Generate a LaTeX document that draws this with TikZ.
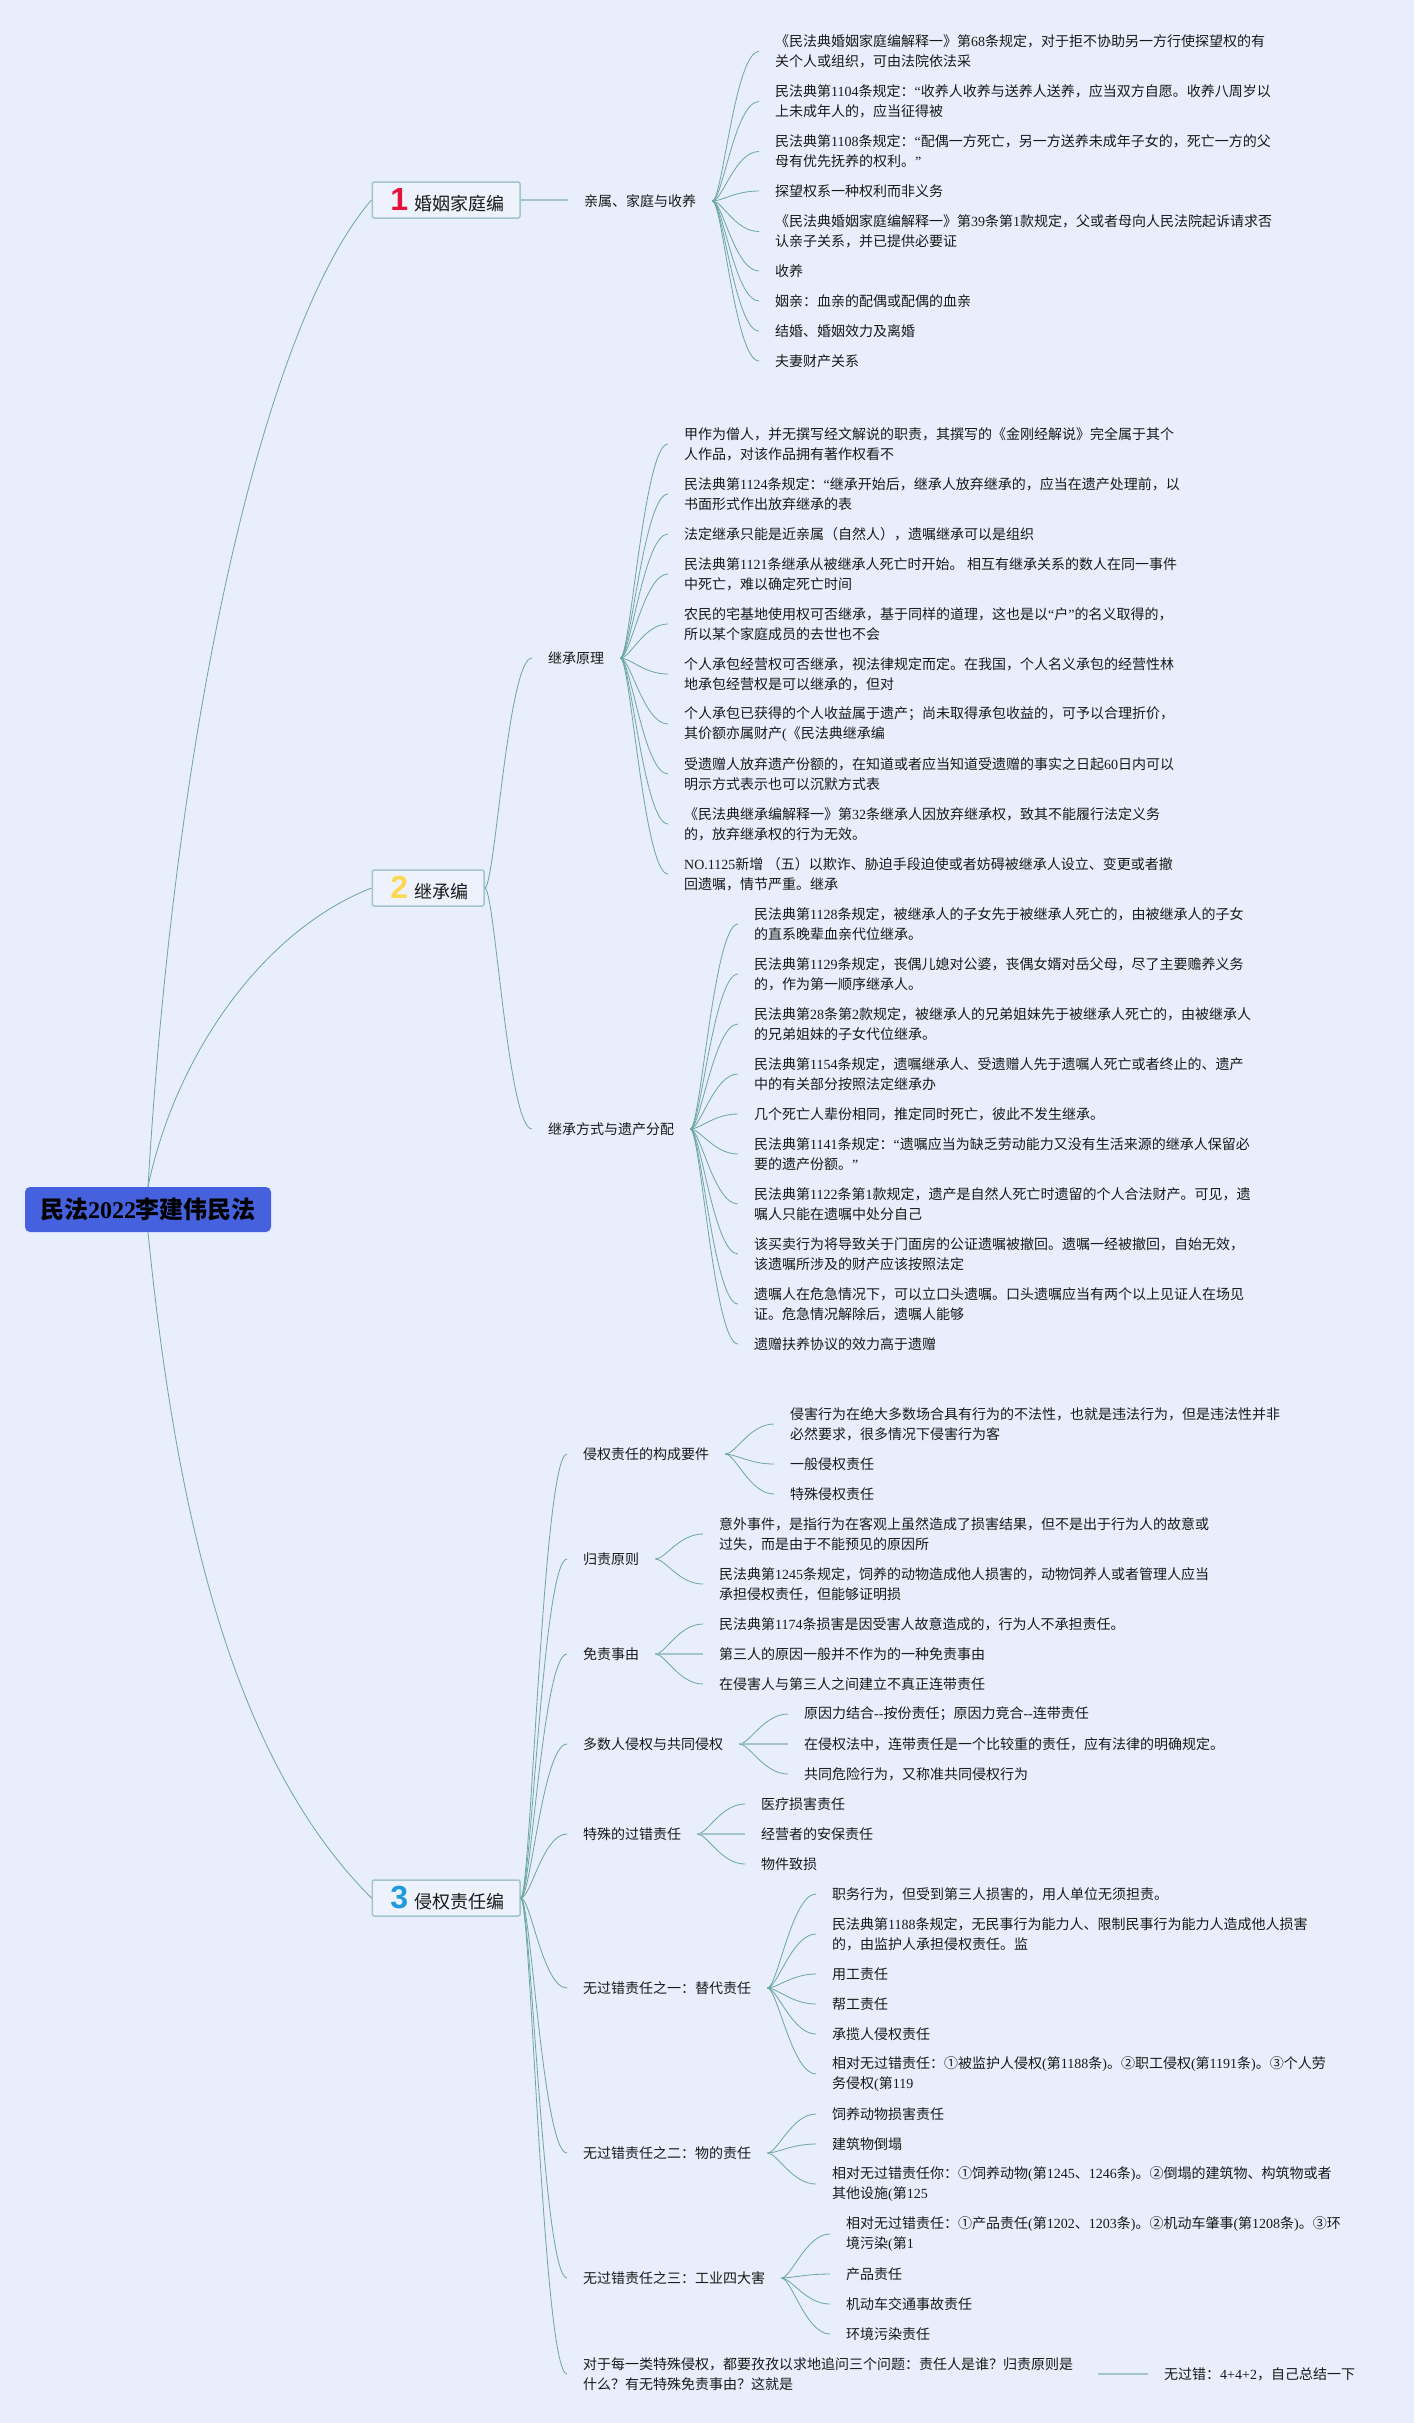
\documentclass[tikz,border=0pt]{standalone}
\usepackage{fontspec}
\setmainfont{Noto Sans CJK SC}
\newfontfamily\latinface{Liberation Serif}
\newfontfamily\iconface{Liberation Sans}
\newcommand{\nm}[1]{{\latinface #1}}
\newcommand{\icon}[2]{{\iconface\bfseries\fontsize{32}{32}\selectfont\textcolor{#1}{#2}}\hspace{6pt}}
\definecolor{pagecol}{HTML}{E8EEFC}
\definecolor{linecol}{HTML}{6BA6A0}
\definecolor{stubcol}{HTML}{A3C4CA}
\definecolor{boxfill}{HTML}{EDF2FC}
\definecolor{rootcol}{HTML}{4661DE}
\definecolor{redicon}{HTML}{E5133C}
\definecolor{yellowicon}{HTML}{FBD84F}
\definecolor{blueicon}{HTML}{1F9ADB}
\tikzset{
  leaf/.style={anchor=west,align=left,inner xsep=16pt,inner ysep=0pt,text=black!90,
    font=\fontsize{14}{20}\selectfont},
  part/.style={anchor=west,draw=stubcol,line width=1.5pt,fill=boxfill,rounded corners=2pt,
    inner xsep=16pt,inner ysep=0pt,minimum height=36pt,text=black!90,font=\fontsize{18}{20}\selectfont},
  rootbox/.style={fill=rootcol,rounded corners=5pt,inner sep=0pt,minimum width=246pt,minimum height=45pt,
    font=\fontsize{24}{26}\selectfont\bfseries},
  trunk/.style={draw=linecol,line width=0.8pt},
  branch/.style={draw=linecol,line width=0.8pt,to path={.. controls +(10,0) and +(-24,0) .. (\tikztotarget) \tikztonodes}},
  stub/.style={draw=stubcol,line width=1.5pt}
}
\begin{document}
\begin{tikzpicture}[x=1pt,y=-1pt]
\fill[pagecol] (0,0) rectangle (1414,2423);
\useasboundingbox (0,0) rectangle (1414,2423);

\node[rootbox] (root) at (148,1209.5) {民法\nm{2022}李建伟民法};

\node[part] (marriage) at (371.5,200) {\hspace{2pt}\icon{redicon}{1}婚姻家庭编};
\node[part] (succession) at (371.5,888) {\hspace{2pt}\icon{yellowicon}{2}继承编};
\node[part] (tort) at (371.5,1898) {\hspace{2pt}\icon{blueicon}{3}侵权责任编};

\draw[trunk] (root.north) .. controls +(30,-500) and +(-100,115) .. (marriage.west);
\draw[trunk] (root.north) .. controls +(27,-130) and +(-110,43) .. (succession.west);
\draw[trunk] (root.south) .. controls +(28,280) and +(-140,-140) .. (tort.west);

\node[leaf] (kin) at (568,201) {亲属、家庭与收养};
\draw[stub] (marriage.east) -- (kin.west |- marriage.east);

\node[leaf] (kin1) at (759,51.5) {《民法典婚姻家庭编解释一》第\nm{68}条规定，对于拒不协助另一方行使探望权的有\\关个人或组织，可由法院依法采};
\node[leaf] (kin2) at (759,101.5) {民法典第\nm{1104}条规定：\nm{“}收养人收养与送养人送养，应当双方自愿。收养八周岁以\\上未成年人的，应当征得被};
\node[leaf] (kin3) at (759,151.5) {民法典第\nm{1108}条规定：\nm{“}配偶一方死亡，另一方送养未成年子女的，死亡一方的父\\母有优先抚养的权利。\nm{”}};
\node[leaf] (kin4) at (759,191) {探望权系一种权利而非义务};
\node[leaf] (kin5) at (759,231.5) {《民法典婚姻家庭编解释一》第\nm{39}条第\nm{1}款规定，父或者母向人民法院起诉请求否\\认亲子关系，并已提供必要证};
\node[leaf] (kin6) at (759,271) {收养};
\node[leaf] (kin7) at (759,301) {姻亲：血亲的配偶或配偶的血亲};
\node[leaf] (kin8) at (759,331) {结婚、婚姻效力及离婚};
\node[leaf] (kin9) at (759,361) {夫妻财产关系};

\draw[branch] (kin.east) to (kin1.west);
\draw[branch] (kin.east) to (kin2.west);
\draw[branch] (kin.east) to (kin3.west);
\draw[branch] (kin.east) to (kin4.west);
\draw[branch] (kin.east) to (kin5.west);
\draw[branch] (kin.east) to (kin6.west);
\draw[branch] (kin.east) to (kin7.west);
\draw[branch] (kin.east) to (kin8.west);
\draw[branch] (kin.east) to (kin9.west);

\node[leaf] (basis) at (532,658) {继承原理};
\draw[branch] (succession.east) to (basis.west);

\node[leaf] (basis1) at (668,444) {甲作为僧人，并无撰写经文解说的职责，其撰写的《金刚经解说》完全属于其个\\人作品，对该作品拥有著作权看不};
\node[leaf] (basis2) at (668,494) {民法典第\nm{1124}条规定：\nm{“}继承开始后，继承人放弃继承的，应当在遗产处理前，以\\书面形式作出放弃继承的表};
\node[leaf] (basis3) at (668,534) {法定继承只能是近亲属（自然人），遗嘱继承可以是组织};
\node[leaf] (basis4) at (668,574) {民法典第\nm{1121}条继承从被继承人死亡时开始。\nm{ }相互有继承关系的数人在同一事件\\中死亡，难以确定死亡时间};
\node[leaf] (basis5) at (668,624) {农民的宅基地使用权可否继承，基于同样的道理，这也是以\nm{“}户\nm{”}的名义取得的，\\所以某个家庭成员的去世也不会};
\node[leaf] (basis6) at (668,674) {个人承包经营权可否继承，视法律规定而定。在我国，个人名义承包的经营性林\\地承包经营权是可以继承的，但对};
\node[leaf] (basis7) at (668,724) {个人承包已获得的个人收益属于遗产；尚未取得承包收益的，可予以合理折价，\\其价额亦属财产\nm{(}《民法典继承编};
\node[leaf] (basis8) at (668,774) {受遗赠人放弃遗产份额的，在知道或者应当知道受遗赠的事实之日起\nm{60}日内可以\\明示方式表示也可以沉默方式表};
\node[leaf] (basis9) at (668,824) {《民法典继承编解释一》第\nm{32}条继承人因放弃继承权，致其不能履行法定义务\\的，放弃继承权的行为无效。};
\node[leaf] (basis10) at (668,874) {\nm{NO.1125}新增\nm{ }（五）以欺诈、胁迫手段迫使或者妨碍被继承人设立、变更或者撤\\回遗嘱，情节严重。继承};

\draw[branch] (basis.east) to (basis1.west);
\draw[branch] (basis.east) to (basis2.west);
\draw[branch] (basis.east) to (basis3.west);
\draw[branch] (basis.east) to (basis4.west);
\draw[branch] (basis.east) to (basis5.west);
\draw[branch] (basis.east) to (basis6.west);
\draw[branch] (basis.east) to (basis7.west);
\draw[branch] (basis.east) to (basis8.west);
\draw[branch] (basis.east) to (basis9.west);
\draw[branch] (basis.east) to (basis10.west);

\node[leaf] (estate) at (532,1129) {继承方式与遗产分配};
\draw[branch] (succession.east) to (estate.west);

\node[leaf] (estate1) at (738,924) {民法典第\nm{1128}条规定，被继承人的子女先于被继承人死亡的，由被继承人的子女\\的直系晚辈血亲代位继承。};
\node[leaf] (estate2) at (738,974) {民法典第\nm{1129}条规定，丧偶儿媳对公婆，丧偶女婿对岳父母，尽了主要赡养义务\\的，作为第一顺序继承人。};
\node[leaf] (estate3) at (738,1024) {民法典第\nm{28}条第\nm{2}款规定，被继承人的兄弟姐妹先于被继承人死亡的，由被继承人\\的兄弟姐妹的子女代位继承。};
\node[leaf] (estate4) at (738,1074) {民法典第\nm{1154}条规定，遗嘱继承人、受遗赠人先于遗嘱人死亡或者终止的、遗产\\中的有关部分按照法定继承办};
\node[leaf] (estate5) at (738,1114) {几个死亡人辈份相同，推定同时死亡，彼此不发生继承。};
\node[leaf] (estate6) at (738,1154) {民法典第\nm{1141}条规定：\nm{“}遗嘱应当为缺乏劳动能力又没有生活来源的继承人保留必\\要的遗产份额。\nm{”}};
\node[leaf] (estate7) at (738,1204) {民法典第\nm{1122}条第\nm{1}款规定，遗产是自然人死亡时遗留的个人合法财产。可见，遗\\嘱人只能在遗嘱中处分自己};
\node[leaf] (estate8) at (738,1254) {该买卖行为将导致关于门面房的公证遗嘱被撤回。遗嘱一经被撤回，自始无效，\\该遗嘱所涉及的财产应该按照法定};
\node[leaf] (estate9) at (738,1304) {遗嘱人在危急情况下，可以立口头遗嘱。口头遗嘱应当有两个以上见证人在场见\\证。危急情况解除后，遗嘱人能够};
\node[leaf] (estate10) at (738,1344) {遗赠扶养协议的效力高于遗赠};

\draw[branch] (estate.east) to (estate1.west);
\draw[branch] (estate.east) to (estate2.west);
\draw[branch] (estate.east) to (estate3.west);
\draw[branch] (estate.east) to (estate4.west);
\draw[branch] (estate.east) to (estate5.west);
\draw[branch] (estate.east) to (estate6.west);
\draw[branch] (estate.east) to (estate7.west);
\draw[branch] (estate.east) to (estate8.west);
\draw[branch] (estate.east) to (estate9.west);
\draw[branch] (estate.east) to (estate10.west);

\node[leaf] (elements) at (567,1454) {侵权责任的构成要件};
\node[leaf] (elements1) at (774,1424) {侵害行为在绝大多数场合具有行为的不法性，也就是违法行为，但是违法性并非\\必然要求，很多情况下侵害行为客};
\node[leaf] (elements2) at (774,1464) {一般侵权责任};
\node[leaf] (elements3) at (774,1494) {特殊侵权责任};
\draw[branch] (tort.east) to (elements.west);
\draw[branch] (elements.east) to (elements1.west);
\draw[branch] (elements.east) to (elements2.west);
\draw[branch] (elements.east) to (elements3.west);

\node[leaf] (liability) at (567,1559) {归责原则};
\node[leaf] (liability1) at (703,1534) {意外事件，是指行为在客观上虽然造成了损害结果，但不是出于行为人的故意或\\过失，而是由于不能预见的原因所};
\node[leaf] (liability2) at (703,1584) {民法典第\nm{1245}条规定，饲养的动物造成他人损害的，动物饲养人或者管理人应当\\承担侵权责任，但能够证明损};
\draw[branch] (tort.east) to (liability.west);
\draw[branch] (liability.east) to (liability1.west);
\draw[branch] (liability.east) to (liability2.west);

\node[leaf] (defence) at (567,1654) {免责事由};
\node[leaf] (defence1) at (703,1624) {民法典第\nm{1174}条损害是因受害人故意造成的，行为人不承担责任。};
\node[leaf] (defence2) at (703,1654) {第三人的原因一般并不作为的一种免责事由};
\node[leaf] (defence3) at (703,1684) {在侵害人与第三人之间建立不真正连带责任};
\draw[branch] (tort.east) to (defence.west);
\draw[branch] (defence.east) to (defence1.west);
\draw[stub] (defence.east) -- (defence2.west);
\draw[branch] (defence.east) to (defence3.west);

\node[leaf] (joint) at (567,1744) {多数人侵权与共同侵权};
\node[leaf] (joint1) at (788,1714) {原因力结合\nm{-{}-}按份责任；原因力竞合\nm{-{}-}连带责任};
\node[leaf] (joint2) at (788,1744) {在侵权法中，连带责任是一个比较重的责任，应有法律的明确规定。};
\node[leaf] (joint3) at (788,1774) {共同危险行为，又称准共同侵权行为};
\draw[branch] (tort.east) to (joint.west);
\draw[branch] (joint.east) to (joint1.west);
\draw[stub] (joint.east) -- (joint2.west);
\draw[branch] (joint.east) to (joint3.west);

\node[leaf] (fault) at (567,1834) {特殊的过错责任};
\node[leaf] (fault1) at (745,1804) {医疗损害责任};
\node[leaf] (fault2) at (745,1834) {经营者的安保责任};
\node[leaf] (fault3) at (745,1864) {物件致损};
\draw[branch] (tort.east) to (fault.west);
\draw[branch] (fault.east) to (fault1.west);
\draw[stub] (fault.east) -- (fault2.west);
\draw[branch] (fault.east) to (fault3.west);

\node[leaf] (vicar) at (567,1988) {无过错责任之一：替代责任};
\node[leaf] (vicar1) at (816,1894) {职务行为，但受到第三人损害的，用人单位无须担责。};
\node[leaf] (vicar2) at (816,1934) {民法典第\nm{1188}条规定，无民事行为能力人、限制民事行为能力人造成他人损害\\的，由监护人承担侵权责任。监};
\node[leaf] (vicar3) at (816,1974) {用工责任};
\node[leaf] (vicar4) at (816,2004) {帮工责任};
\node[leaf] (vicar5) at (816,2034) {承揽人侵权责任};
\node[leaf] (vicar6) at (816,2074) {相对无过错责任：①被监护人侵权\nm{(}第\nm{1188}条\nm{)}。②职工侵权\nm{(}第\nm{1191}条\nm{)}。③个人劳\\务侵权\nm{(}第\nm{119}};
\draw[branch] (tort.east) to (vicar.west);
\draw[branch] (vicar.east) to (vicar1.west);
\draw[branch] (vicar.east) to (vicar2.west);
\draw[branch] (vicar.east) to (vicar3.west);
\draw[branch] (vicar.east) to (vicar4.west);
\draw[branch] (vicar.east) to (vicar5.west);
\draw[branch] (vicar.east) to (vicar6.west);

\node[leaf] (object) at (567,2153) {无过错责任之二：物的责任};
\node[leaf] (object1) at (816,2114) {饲养动物损害责任};
\node[leaf] (object2) at (816,2144) {建筑物倒塌};
\node[leaf] (object3) at (816,2184) {相对无过错责任你：①饲养动物\nm{(}第\nm{1245}、\nm{1246}条\nm{)}。②倒塌的建筑物、构筑物或者\\其他设施\nm{(}第\nm{125}};
\draw[branch] (tort.east) to (object.west);
\draw[branch] (object.east) to (object1.west);
\draw[branch] (object.east) to (object2.west);
\draw[branch] (object.east) to (object3.west);

\node[leaf] (hazard) at (567,2278) {无过错责任之三：工业四大害};
\node[leaf] (hazard1) at (830,2234) {相对无过错责任：①产品责任\nm{(}第\nm{1202}、\nm{1203}条\nm{)}。②机动车肇事\nm{(}第\nm{1208}条\nm{)}。③环\\境污染\nm{(}第\nm{1}};
\node[leaf] (hazard2) at (830,2274) {产品责任};
\node[leaf] (hazard3) at (830,2304) {机动车交通事故责任};
\node[leaf] (hazard4) at (830,2334) {环境污染责任};
\draw[branch] (tort.east) to (hazard.west);
\draw[branch] (hazard.east) to (hazard1.west);
\draw[branch] (hazard.east) to (hazard2.west);
\draw[branch] (hazard.east) to (hazard3.west);
\draw[branch] (hazard.east) to (hazard4.west);

\node[leaf] (questions) at (567,2374) {对于每一类特殊侵权，都要孜孜以求地追问三个问题：责任人是谁？归责原则是\\什么？有无特殊免责事由？这就是};
\node[leaf] (summary) at (1148,2374) {无过错：\nm{4+4+2}，自己总结一下};
\draw[branch] (tort.east) to (questions.west);
\draw[stub,shorten <=9pt] (questions.east) -- (summary.west);
\end{tikzpicture}
\end{document}
